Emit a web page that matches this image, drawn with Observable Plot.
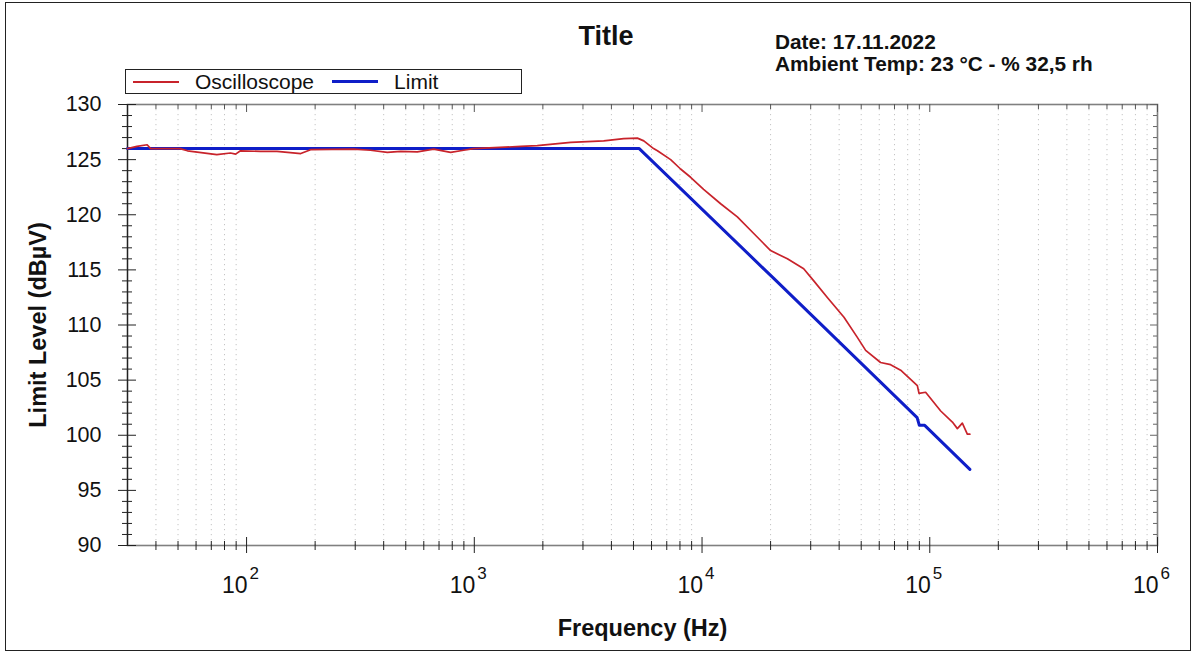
<!DOCTYPE html>
<html>
<head>
<meta charset="utf-8">
<script src="https://cdn.jsdelivr.net/npm/d3@7"></script>
<script src="https://cdn.jsdelivr.net/npm/@observablehq/plot@0.6"></script>
<style>
  html, body { margin: 0; padding: 0; background: #fff; }
  body { width: 1197px; height: 656px; position: relative; overflow: hidden;
         font-family: "Liberation Sans", Arial, sans-serif; color: #111; }
  #chart { position: absolute; left: 0; top: 0; }
  .border { position: absolute; left: 5px; top: 2px; width: 1186px; height: 649px;
            border: 1px solid #222; box-sizing: border-box; pointer-events: none; }
  .title { position: absolute; left: 606px; top: 20px; transform: translateX(-50%);
           font-weight: bold; font-size: 27px; line-height: 32px; }
  .info { position: absolute; left: 775px; top: 31px; font-weight: bold; font-size: 20.8px;
          line-height: 22px; white-space: nowrap; }
  .legend { position: absolute; left: 125px; top: 69px; width: 397px; height: 25px;
            border: 1px solid #222; box-sizing: border-box; display: flex; align-items: center;
            font-size: 21px; background: #fff; }
  .legend .sw { display: inline-block; width: 46px; margin-left: 7px; margin-right: 16px; }
  .legend .lbl { margin-right: 11px; }
</style>
</head>
<body>
<div id="chart"></div>
<div class="title">Title</div>
<div class="info">Date: 17.11.2022<br>Ambient Temp: 23 °C - % 32,5 rh</div>
<div class="legend" id="legend"></div>
<div class="border"></div>
<script>
// Oscilloscope measurement (Hz, dBµV)
const oscFreq = [30, 33, 36.6, 37.9, 51, 55, 74, 85, 89.5, 94, 115, 136, 173, 191, 295, 350, 415, 475,
  562, 663, 787, 898, 993, 1600, 1890, 2650, 3700, 4530, 5200, 5550, 6125, 6370, 7280, 8050, 8910,
  10160, 12070, 14290, 16870, 20000, 23700, 27950, 30950, 35500, 42000, 48000, 52300, 60800, 67300,
  74500, 88200, 89700, 95900, 111700, 125700, 132200, 139000, 146200, 150000];
const oscLevel = [126.0, 126.2, 126.35, 126.0, 126.0, 125.8, 125.45, 125.6, 125.5, 125.8, 125.75, 125.75,
  125.55, 125.9, 125.95, 125.85, 125.65, 125.75, 125.7, 125.95, 125.65, 125.85, 126.0, 126.2, 126.27,
  126.56, 126.7, 126.9, 126.95, 126.7, 126.0, 125.8, 125.0, 124.15, 123.4, 122.3, 121.0, 119.8, 118.3,
  116.75, 116.0, 115.1, 114.0, 112.5, 110.7, 108.9, 107.7, 106.6, 106.4, 105.9, 104.5, 103.8, 103.9,
  102.2, 101.2, 100.6, 101.1, 100.1, 100.1];

// Limit line (Hz, dBµV)
const limitFreq = [30, 5300, 20700, 88000, 90000, 95000, 150000];
const limitLevel = [126, 126, 114.2, 101.6, 100.9, 100.9, 96.9];

// Axis ticks
const yMajor = [90, 95, 100, 105, 110, 115, 120, 125, 130];
const decades = [100, 1000, 10000, 100000, 1000000];
const exponents = ["2", "3", "4", "5", "6"];

const series = [
  {name: "Oscilloscope", color: "#c8232b", width: 1.7},
  {name: "Limit", color: "#0f1ec8", width: 3}
];

const oscRows = oscFreq.map((f, i) => ({f, level: oscLevel[i]}));
const limitRows = limitFreq.map((f, i) => ({f, level: limitLevel[i]}));

const yMinor = d3.range(91, 130).filter(v => v % 5 !== 0);
const xMinor = [];
for (let e = 1; e <= 5; e++) for (let m = 2; m <= 9; m++) {
  const v = m * 10 ** e;
  if (v > 30 && v < 1e6) xMinor.push(v);
}

const W = 1197, H = 656, ML = 127, MR = 40, MT = 104, MB = 111;
const FW = W - ML - MR, FH = H - MT - MB;
const font = "Liberation Sans, Arial, sans-serif";

const chart = Plot.plot({
  width: W, height: H,
  marginLeft: ML, marginRight: MR, marginTop: MT, marginBottom: MB,
  style: {fontFamily: font, background: "transparent", overflow: "visible"},
  x: {type: "log", domain: [30, 1e6], axis: null},
  y: {domain: [90, 130], axis: null},
  marks: [
    // dotted vertical grid on the log sub-divisions
    Plot.ruleX(xMinor, {stroke: "#c4c4c4", strokeDasharray: "1.2,3.8", strokeWidth: 1}),
    Plot.frame({stroke: "#808080", strokeWidth: 1.6}),
    Plot.ruleX([30], {stroke: "#222", strokeWidth: 1.2}),
    // left axis ticks
    Plot.tickY(yMinor, {y: d => d, insetLeft: -5, insetRight: FW - 5, stroke: "#222"}),
    Plot.tickY(yMajor, {y: d => d, insetLeft: -9, insetRight: FW - 9, stroke: "#222"}),
    // right frame ticks
    Plot.tickY(yMinor, {y: d => d, insetLeft: FW - 4, insetRight: 0, stroke: "#666"}),
    Plot.tickY(yMajor, {y: d => d, insetLeft: FW - 7, insetRight: 0, stroke: "#666"}),
    // bottom axis ticks
    Plot.tickX(xMinor, {x: d => d, insetTop: FH - 4, insetBottom: -5, stroke: "#222"}),
    Plot.tickX(decades, {x: d => d, insetTop: FH - 8, insetBottom: -8, stroke: "#222"}),
    // top frame ticks
    Plot.tickX(xMinor, {x: d => d, insetTop: 0, insetBottom: FH - 5, stroke: "#555"}),
    Plot.tickX(decades, {x: d => d, insetTop: 0, insetBottom: FH - 8, stroke: "#555"}),
    // series
    Plot.line(limitRows, {x: "f", y: "level", stroke: series[1].color, strokeWidth: series[1].width}),
    Plot.line(oscRows, {x: "f", y: "level", stroke: series[0].color, strokeWidth: series[0].width}),
    // tick labels
    Plot.text(yMajor, {y: d => d, text: d => String(d), frameAnchor: "left", dx: -26,
      textAnchor: "end", lineAnchor: "middle", fontSize: 21.5, fill: "#111"}),
    Plot.text(decades, {x: d => d, text: () => "10", frameAnchor: "bottom", dy: 40, dx: 1,
      textAnchor: "end", lineAnchor: "middle", fontSize: 23, fill: "#111"}),
    Plot.text(decades, {x: d => d, text: (d, i) => exponents[i], frameAnchor: "bottom", dy: 28, dx: 3,
      textAnchor: "start", lineAnchor: "middle", fontSize: 17, fill: "#111"}),
    // axis titles
    Plot.text(["Frequency (Hz)"], {text: d => d, frameAnchor: "bottom", dy: 83,
      lineAnchor: "middle", fontWeight: "bold", fontSize: 23.5, fill: "#111"}),
    Plot.text(["Limit Level (dBµV)"], {text: d => d, frameAnchor: "left", dx: -89, rotate: -90,
      textAnchor: "middle", lineAnchor: "middle", fontWeight: "bold", fontSize: 23.5, fill: "#111"})
  ]
});
document.getElementById("chart").append(chart);

// legend
const legend = document.getElementById("legend");
for (const s of series) {
  const sw = document.createElement("span");
  sw.className = "sw";
  sw.style.borderTop = `${s.width === 3 ? 3 : 2}px solid ${s.color}`;
  const lbl = document.createElement("span");
  lbl.className = "lbl";
  lbl.textContent = s.name;
  legend.append(sw, lbl);
}
</script>
</body>
</html>
